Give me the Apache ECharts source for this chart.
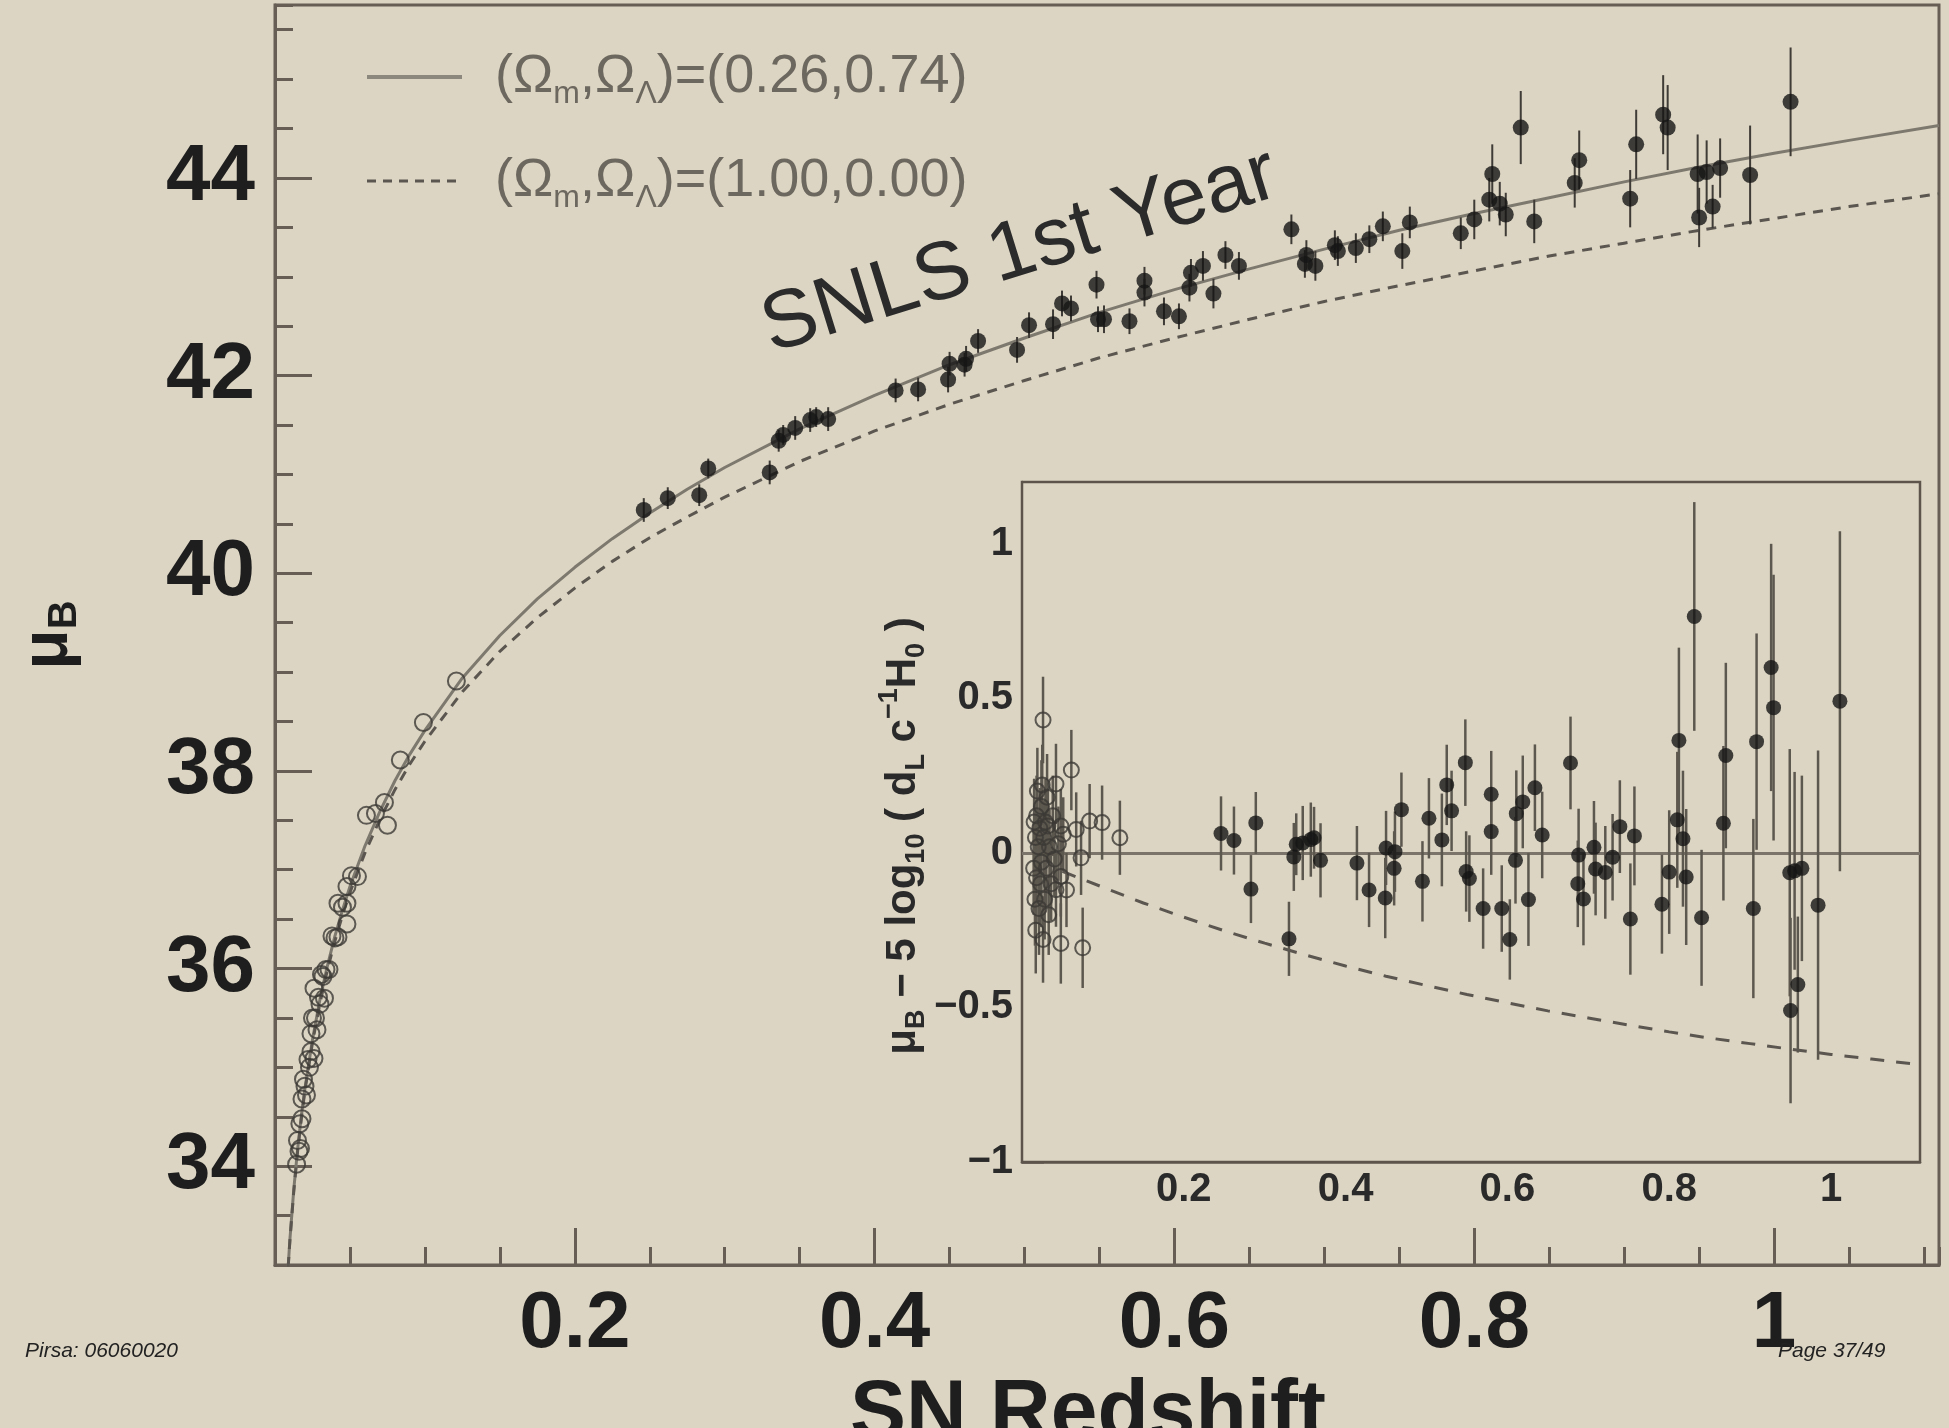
<!DOCTYPE html>
<html>
<head>
<meta charset="utf-8">
<script src="https://cdn.jsdelivr.net/npm/echarts@6/dist/echarts.min.js"></script>
<style>
  html, body { margin: 0; padding: 0; background: #dcd5c3; }
  #chart { width: 1949px; height: 1428px; }
</style>
</head>
<body>
<div id="chart"></div>
<script>
// SNLS first-year SNe (filled dots): redshift, distance modulus, Hubble residual, error
const snlsZ = [0.246, 0.262, 0.283, 0.289, 0.330, 0.336, 0.339, 0.347, 0.357, 0.361, 0.369, 0.414, 0.429, 0.449, 0.450, 0.460, 0.461, 0.469, 0.495, 0.503, 0.519, 0.525, 0.531, 0.548, 0.549, 0.553, 0.570, 0.580, 0.580, 0.593, 0.603, 0.610, 0.611, 0.619, 0.626, 0.634, 0.643, 0.678, 0.687, 0.688, 0.694, 0.707, 0.709, 0.721, 0.730, 0.739, 0.752, 0.757, 0.791, 0.800, 0.810, 0.812, 0.817, 0.821, 0.831, 0.840, 0.867, 0.870, 0.904, 0.908, 0.926, 0.929, 0.949, 0.950, 0.955, 0.959, 0.964, 0.984, 1.011];
const snlsMu = [40.64, 40.76, 40.79, 41.06, 41.02, 41.34, 41.40, 41.47, 41.55, 41.58, 41.56, 41.85, 41.86, 41.96, 42.12, 42.11, 42.17, 42.35, 42.26, 42.51, 42.52, 42.73, 42.68, 42.92, 42.57, 42.57, 42.55, 42.96, 42.84, 42.65, 42.60, 42.89, 43.04, 43.11, 42.83, 43.22, 43.11, 43.48, 43.13, 43.22, 43.11, 43.32, 43.26, 43.29, 43.38, 43.51, 43.26, 43.55, 43.44, 43.58, 43.78, 44.04, 43.74, 43.63, 44.51, 43.56, 43.95, 44.18, 43.79, 44.34, 44.64, 44.51, 44.04, 43.60, 44.06, 43.71, 44.10, 44.03, 44.77];
const snlsResid = [0.063, 0.040, -0.117, 0.097, -0.278, -0.013, 0.028, 0.032, 0.043, 0.049, -0.024, -0.033, -0.120, -0.146, 0.016, -0.050, 0.004, 0.140, -0.092, 0.112, 0.042, 0.220, 0.136, 0.292, -0.060, -0.083, -0.180, 0.190, 0.069, -0.180, -0.280, -0.024, 0.127, 0.165, -0.151, 0.211, 0.058, 0.291, -0.100, -0.007, -0.149, 0.018, -0.052, -0.063, -0.014, 0.085, -0.214, 0.055, -0.166, -0.062, 0.107, 0.364, 0.046, -0.078, 0.765, -0.210, 0.096, 0.315, -0.180, 0.360, 0.600, 0.470, -0.064, -0.510, -0.058, -0.426, -0.050, -0.169, 0.491];
const snlsErr = [0.12, 0.11, 0.11, 0.10, 0.12, 0.11, 0.10, 0.12, 0.12, 0.10, 0.12, 0.12, 0.12, 0.13, 0.12, 0.12, 0.13, 0.12, 0.13, 0.13, 0.15, 0.13, 0.13, 0.14, 0.13, 0.14, 0.13, 0.14, 0.14, 0.14, 0.13, 0.14, 0.14, 0.15, 0.15, 0.14, 0.14, 0.15, 0.14, 0.15, 0.15, 0.15, 0.15, 0.15, 0.14, 0.15, 0.18, 0.16, 0.16, 0.20, 0.22, 0.30, 0.22, 0.22, 0.37, 0.22, 0.25, 0.30, 0.29, 0.35, 0.40, 0.43, 0.40, 0.30, 0.32, 0.22, 0.30, 0.50, 0.55];

// nearby SNe (open circles)
const lowzZ = [0.0144, 0.015, 0.016, 0.0166, 0.017, 0.018, 0.018, 0.019, 0.020, 0.021, 0.022, 0.023, 0.024, 0.024, 0.025, 0.026, 0.026, 0.027, 0.028, 0.029, 0.030, 0.031, 0.032, 0.033, 0.034, 0.036, 0.038, 0.040, 0.042, 0.042, 0.045, 0.048, 0.048, 0.048, 0.051, 0.055, 0.061, 0.067, 0.073, 0.075, 0.0836, 0.099, 0.121];
const lowzMu = [34.02, 34.26, 34.15, 34.43, 34.18, 34.68, 34.48, 34.88, 34.81, 34.72, 35.08, 35.00, 35.34, 35.16, 35.50, 35.09, 35.80, 35.50, 35.38, 35.71, 35.64, 35.94, 35.92, 35.70, 35.99, 35.99, 36.33, 36.31, 36.66, 36.32, 36.62, 36.83, 36.66, 36.45, 36.94, 36.93, 37.55, 37.57, 37.68, 37.45, 38.11, 38.49, 38.91];
const lowzResid = [-0.05, 0.10, -0.15, 0.05, -0.25, 0.12, -0.08, 0.20, 0.02, -0.18, 0.08, -0.10, 0.15, -0.03, 0.22, -0.28, 0.43, 0.05, -0.15, 0.10, -0.05, 0.18, 0.087, -0.20, 0.02, -0.10, 0.12, -0.02, 0.223, -0.119, 0.03, 0.087, -0.076, -0.293, 0.06, -0.12, 0.268, 0.076, -0.016, -0.307, 0.103, 0.098, 0.049];
const lowzErr = [0.15, 0.14, 0.15, 0.12, 0.14, 0.13, 0.15, 0.14, 0.12, 0.15, 0.13, 0.14, 0.15, 0.12, 0.13, 0.14, 0.14, 0.12, 0.13, 0.14, 0.12, 0.14, 0.12, 0.13, 0.12, 0.12, 0.13, 0.12, 0.13, 0.12, 0.12, 0.12, 0.13, 0.13, 0.12, 0.12, 0.13, 0.12, 0.12, 0.13, 0.12, 0.12, 0.12];

// model curves
const curveZ = [0.0088, 0.01, 0.0125, 0.015, 0.0175, 0.02, 0.025, 0.03, 0.035, 0.04, 0.045, 0.05, 0.06, 0.07, 0.08, 0.09, 0.1, 0.125, 0.15, 0.175, 0.2, 0.225, 0.25, 0.275, 0.3, 0.35, 0.4, 0.45, 0.5, 0.55, 0.6, 0.65, 0.7, 0.75, 0.8, 0.85, 0.9, 0.95, 1.0, 1.05, 1.11];
const lcdmMu = [32.99, 33.27, 33.76, 34.16, 34.50, 34.79, 35.28, 35.69, 36.03, 36.33, 36.59, 36.83, 37.24, 37.59, 37.90, 38.17, 38.41, 38.94, 39.37, 39.74, 40.06, 40.35, 40.61, 40.85, 41.07, 41.46, 41.80, 42.11, 42.38, 42.64, 42.87, 43.08, 43.28, 43.47, 43.64, 43.80, 43.96, 44.11, 44.25, 44.38, 44.53];
const edsMu = [32.98, 33.26, 33.74, 34.14, 34.47, 34.77, 35.25, 35.65, 35.99, 36.28, 36.54, 36.77, 37.17, 37.51, 37.81, 38.07, 38.30, 38.80, 39.21, 39.55, 39.85, 40.12, 40.36, 40.57, 40.77, 41.13, 41.44, 41.71, 41.95, 42.18, 42.38, 42.57, 42.75, 42.91, 43.06, 43.21, 43.34, 43.47, 43.59, 43.71, 43.84];
const insetCurveZ = [0.05, 0.1, 0.15, 0.2, 0.25, 0.3, 0.35, 0.4, 0.45, 0.5, 0.55, 0.6, 0.65, 0.7, 0.75, 0.8, 0.85, 0.9, 0.95, 1.0, 1.05, 1.11];
const edsResid = [-0.060, -0.111, -0.162, -0.208, -0.252, -0.292, -0.330, -0.366, -0.399, -0.429, -0.458, -0.485, -0.511, -0.534, -0.557, -0.579, -0.599, -0.617, -0.635, -0.652, -0.667, -0.685];

// tick labels
const mainXTicks = [0.2, 0.4, 0.6, 0.8, 1];
const mainYTicks = [34, 36, 38, 40, 42, 44];
const insetXTicks = [0.2, 0.4, 0.6, 0.8, 1];
const insetYTicks = [-1, -0.5, 0, 0.5, 1];

const legendLabels = [
  '{t|(Ω}{s|m}{t|,Ω}{s|Λ}{t|)=(0.26,0.74)}',
  '{t|(Ω}{s|m}{t|,Ω}{s|Λ}{t|)=(1.00,0.00)}'
];

const BG = '#dcd5c3';
const AXIS = '#675f55';
const INK = '#1e1e1e';
const LEGEND_INK = '#6d685f';
const FONT = '"Liberation Sans", Arial, Helvetica, sans-serif';

const fmt = v => {
  const s = String(Number(v.toFixed(2)));
  return v < 0 ? '\u2212' + s.slice(1) : s;
};
const zip = (a, b) => a.map((x, i) => [x, b[i]]);

function errorBars(xi, yi, xs, ys, es, color, width, z) {
  return {
    type: 'custom', xAxisIndex: xi, yAxisIndex: yi, silent: true, z: z,
    data: xs.map((x, i) => [x, ys[i], es[i]]),
    encode: { x: 0, y: 1 },
    renderItem: (params, api) => {
      const x = api.value(0), y = api.value(1), e = api.value(2);
      const hi = api.coord([x, y + e]);
      const lo = api.coord([x, y - e]);
      return {
        type: 'line',
        shape: { x1: hi[0], y1: hi[1], x2: lo[0], y2: lo[1] },
        style: { stroke: color, lineWidth: width }
      };
    }
  };
}

const legendRich = {
  t: { fontSize: 54, lineHeight: 66, fill: LEGEND_INK, color: LEGEND_INK, fontFamily: FONT },
  s: { fontSize: 32, lineHeight: 40, verticalAlign: 'bottom', fill: LEGEND_INK, color: LEGEND_INK, fontFamily: FONT }
};

const chart = echarts.init(document.getElementById('chart'), null, { renderer: 'canvas' });

const tickLine = w => ({ color: AXIS, width: w });

chart.setOption({
  backgroundColor: BG,
  animation: false,
  textStyle: { fontFamily: FONT },
  grid: [
    { left: 275, top: 5, width: 1664, height: 1260, show: true, borderColor: AXIS, borderWidth: 3,
      backgroundColor: 'transparent', outerBoundsMode: 'none', containLabel: false },
    { left: 1022, top: 482, width: 898, height: 680, show: true, borderColor: '#5d554b', borderWidth: 2.5,
      backgroundColor: BG, z: 4, outerBoundsMode: 'none', containLabel: false }
  ],
  xAxis: [
    {
      gridIndex: 0, type: 'value', min: 0, max: 1.11, interval: 0.05, position: 'bottom',
      axisLine: { show: true, onZero: false, lineStyle: tickLine(3) },
      axisTick: { show: true, inside: true, length: 18, lineStyle: tickLine(3) },
      axisLabel: { customValues: mainXTicks, formatter: fmt, fontSize: 80, fontWeight: 'bold', color: INK, margin: 20 },
      splitLine: { show: false },
      name: 'SN Redshift', nameLocation: 'middle', nameGap: 108,
      nameTextStyle: { fontSize: 84, fontWeight: 'bold', color: INK, verticalAlign: 'top', padding: [0, 38, 0, 0] }
    },
    {
      gridIndex: 0, type: 'value', min: 0, max: 1.11, position: 'bottom',
      axisLine: { show: false },
      axisTick: { show: true, inside: true, length: 37, customValues: mainXTicks, lineStyle: tickLine(3) },
      axisLabel: { show: false }, splitLine: { show: false }
    },
    {
      gridIndex: 1, type: 'value', min: 0, max: 1.11, interval: 0.05, position: 'bottom',
      axisLine: { show: true, onZero: false, lineStyle: tickLine(2.5) },
      axisTick: { show: true, inside: true, length: 10, lineStyle: tickLine(2) },
      axisLabel: { customValues: insetXTicks, formatter: fmt, fontSize: 40, fontWeight: 'bold', color: '#2a2a2a', margin: 8 },
      splitLine: { show: false }
    },
    {
      gridIndex: 1, type: 'value', min: 0, max: 1.11, position: 'bottom',
      axisLine: { show: false },
      axisTick: { show: true, inside: true, length: 20, customValues: insetXTicks, lineStyle: tickLine(2.5) },
      axisLabel: { show: false }, splitLine: { show: false }
    }
  ],
  yAxis: [
    {
      gridIndex: 0, type: 'value', min: 33, max: 45.75, interval: 0.5, position: 'left',
      axisLine: { show: true, onZero: false, lineStyle: tickLine(3) },
      axisTick: { show: true, inside: true, length: 18, lineStyle: tickLine(3) },
      axisLabel: { customValues: mainYTicks, formatter: fmt, fontSize: 80, fontWeight: 'bold', color: INK, margin: 20 },
      splitLine: { show: false },
      name: '{mu|μ}{sub|B}', nameLocation: 'middle', nameGap: 190, nameRotate: 90,
      nameTextStyle: {
        rich: {
          mu: { fontSize: 66, fontWeight: 'bold', lineHeight: 72, color: INK, fontFamily: FONT },
          sub: { fontSize: 40, fontWeight: 'bold', lineHeight: 44, verticalAlign: 'bottom', color: INK, fontFamily: FONT }
        }
      }
    },
    {
      gridIndex: 0, type: 'value', min: 33, max: 45.75, position: 'left',
      axisLine: { show: false },
      axisTick: { show: true, inside: true, length: 37, customValues: mainYTicks, lineStyle: tickLine(3) },
      axisLabel: { show: false }, splitLine: { show: false }
    },
    {
      gridIndex: 1, type: 'value', min: -1, max: 1.2, interval: 0.1, position: 'left',
      axisLine: { show: true, onZero: false, lineStyle: tickLine(2.5) },
      axisTick: { show: true, inside: true, length: 11, lineStyle: tickLine(2) },
      axisLabel: { customValues: insetYTicks, formatter: fmt, fontSize: 40, fontWeight: 'bold', color: '#2a2a2a', margin: 9 },
      splitLine: { show: false },
      name: '{t|μ}{s|B}{t| − 5 log}{s|10}{t| ( d}{s|L}{t| c}{p|−1}{t|H}{s|0}{t| )}',
      nameLocation: 'middle', nameGap: 84, nameRotate: 90,
      nameTextStyle: {
        padding: [0, 28, 0, 0],
        rich: {
          t: { fontSize: 42, fontWeight: 'bold', lineHeight: 54, color: '#2a2a2a', fontFamily: FONT },
          s: { fontSize: 27, fontWeight: 'bold', lineHeight: 32, verticalAlign: 'bottom', color: '#2a2a2a', fontFamily: FONT },
          p: { fontSize: 27, fontWeight: 'bold', lineHeight: 32, verticalAlign: 'top', color: '#2a2a2a', fontFamily: FONT }
        }
      }
    },
    {
      gridIndex: 1, type: 'value', min: -1, max: 1.2, position: 'left',
      axisLine: { show: false },
      axisTick: { show: true, inside: true, length: 22, customValues: insetYTicks, lineStyle: tickLine(2.5) },
      axisLabel: { show: false }, splitLine: { show: false }
    }
  ],
  graphic: [
    // legend
    { type: 'line', z: 10, shape: { x1: 367, y1: 77, x2: 462, y2: 77 }, style: { stroke: '#8d887e', lineWidth: 4 } },
    { type: 'line', z: 10, shape: { x1: 367, y1: 181, x2: 462, y2: 181 }, style: { stroke: '#5b5750', lineWidth: 3, lineDash: [9, 7] } },
    { type: 'text', z: 10, x: 495, y: 77,
      style: { text: legendLabels[0], rich: legendRich, fill: LEGEND_INK, verticalAlign: 'middle', textVerticalAlign: 'middle' } },
    { type: 'text', z: 10, x: 495, y: 181,
      style: { text: legendLabels[1], rich: legendRich, fill: LEGEND_INK, verticalAlign: 'middle', textVerticalAlign: 'middle' } },
    {
      type: 'text', x: 1020, y: 252, rotation: 17.2 * Math.PI / 180, z: 10,
      style: { text: 'SNLS 1st Year', font: 'normal 82px ' + FONT, fill: '#2b2b2b', align: 'center', verticalAlign: 'middle', textAlign: 'center', textVerticalAlign: 'middle' }
    },
    {
      type: 'text', x: 25, y: 1351, z: 10,
      style: { text: 'Pirsa: 06060020', font: 'italic 21px ' + FONT, fill: '#222', verticalAlign: 'middle', textVerticalAlign: 'middle' }
    },
    {
      type: 'text', x: 1778, y: 1351, z: 10,
      style: { text: 'Page 37/49', font: 'italic 21px ' + FONT, fill: '#222', verticalAlign: 'middle', textVerticalAlign: 'middle' }
    }
  ],
  series: [
    {
      name: 'lcdm', type: 'line', xAxisIndex: 0, yAxisIndex: 0,
      data: zip(curveZ, lcdmMu), symbol: 'none', smooth: false,
      lineStyle: { color: '#7e796f', width: 3 }, z: 2
    },
    {
      name: 'eds', type: 'line', xAxisIndex: 0, yAxisIndex: 0,
      data: zip(curveZ, edsMu), symbol: 'none', smooth: false,
      lineStyle: { color: '#5b5750', width: 3, type: [10, 8] }, z: 2
    },
    errorBars(0, 0, snlsZ, snlsMu, snlsErr, '#3f3b36', 2, 3),
    {
      type: 'scatter', xAxisIndex: 0, yAxisIndex: 0, data: zip(lowzZ, lowzMu),
      symbol: 'circle', symbolSize: 17,
      itemStyle: { color: 'rgba(0,0,0,0)', borderColor: '#3c3a36', borderWidth: 2 }, z: 4
    },
    {
      type: 'scatter', xAxisIndex: 0, yAxisIndex: 0, data: zip(snlsZ, snlsMu),
      symbol: 'circle', symbolSize: 16, itemStyle: { color: '#151515' }, z: 5
    },
    {
      type: 'line', xAxisIndex: 2, yAxisIndex: 2, data: zip(insetCurveZ, edsResid),
      symbol: 'none', smooth: false,
      lineStyle: { color: '#5b5750', width: 3, type: [14, 12] }, z: 6
    },
    errorBars(2, 2, lowzZ, lowzResid, lowzErr, '#5d584f', 2.5, 6),
    errorBars(2, 2, snlsZ, snlsResid, snlsErr, '#5d584f', 2.5, 6),
    {
      type: 'scatter', xAxisIndex: 2, yAxisIndex: 2, data: zip(lowzZ, lowzResid),
      symbol: 'circle', symbolSize: 15,
      itemStyle: { color: 'rgba(0,0,0,0)', borderColor: '#3c3a36', borderWidth: 2 }, z: 7,
      markLine: {
        silent: true, symbol: 'none', label: { show: false },
        lineStyle: { color: '#7a746a', width: 3, type: 'solid' },
        data: [{ yAxis: 0 }]
      }
    },
    {
      type: 'scatter', xAxisIndex: 2, yAxisIndex: 2, data: zip(snlsZ, snlsResid),
      symbol: 'circle', symbolSize: 15, itemStyle: { color: '#151515' }, z: 8
    }
  ]
});
</script>
</body>
</html>
